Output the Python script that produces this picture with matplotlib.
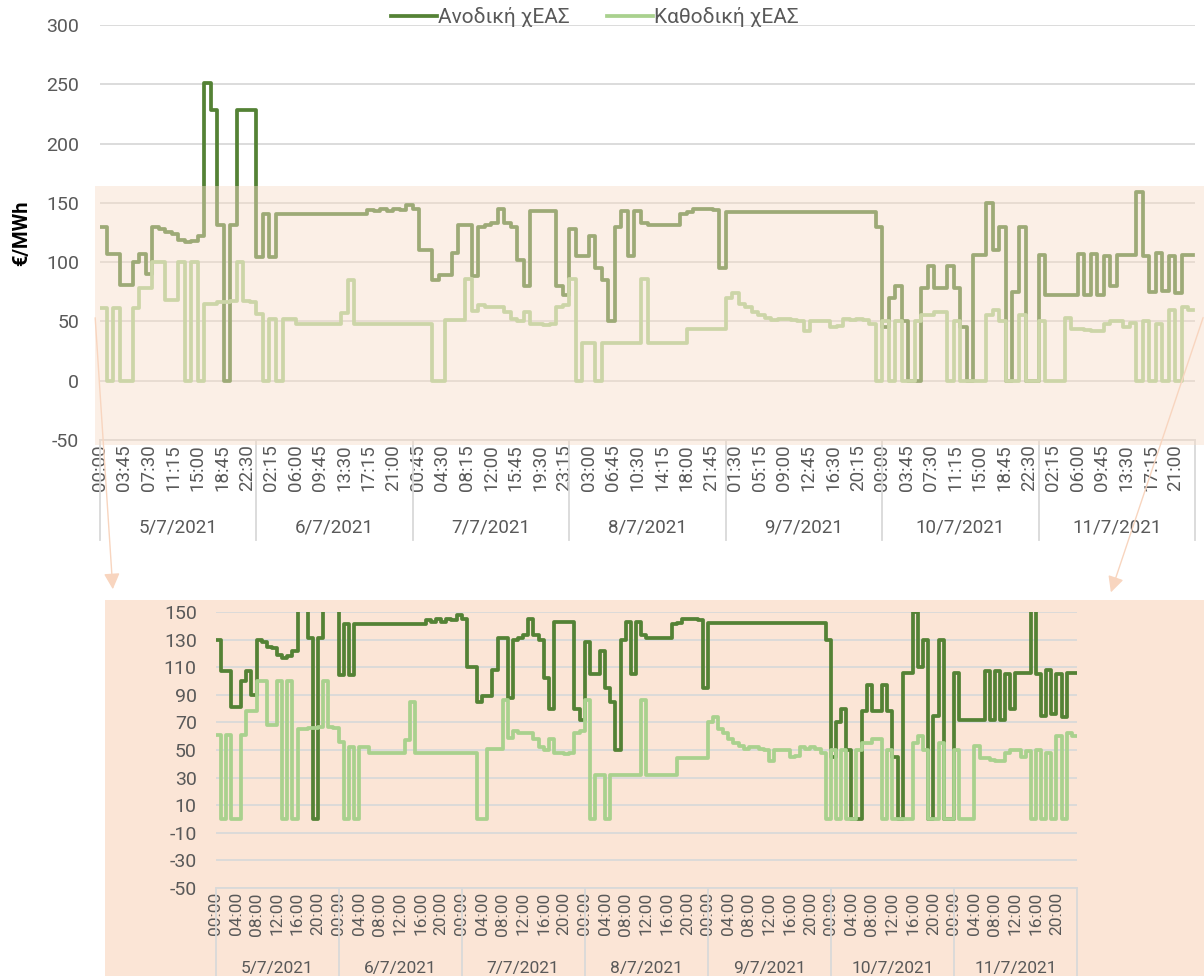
import numpy as np
import matplotlib.pyplot as plt
from matplotlib.lines import Line2D
from matplotlib.patches import Rectangle, FancyArrowPatch

plt.rcParams['font.family'] = ['Roboto', 'DejaVu Sans']
plt.rcParams['axes.unicode_minus'] = False

# hourly values (€/MWh), one list per day
dates = ['5/7/2021', '6/7/2021', '7/7/2021', '8/7/2021', '9/7/2021', '10/7/2021', '11/7/2021']

up_05 = [130, 107, 107, 81, 81, 100, 107, 90, 130, 128, 125, 124, 119, 117, 118, 122, 251, 228, 131, 0, 131, 228, 228, 228]
up_06 = [104, 141, 104, 141, 141, 141, 141, 141, 141, 141, 141, 141, 141, 141, 141, 141, 141, 144, 143, 145, 143, 145, 144, 148]
up_07 = [145, 110, 110, 85, 89, 89, 108, 131, 131, 88, 130, 131, 133, 145, 133, 130, 102, 80, 143, 143, 143, 143, 80, 72]
up_08 = [128, 105, 105, 122, 95, 85, 50, 130, 143, 105, 143, 133, 131, 131, 131, 131, 131, 141, 142, 145, 145, 145, 144, 95]
up_09 = [142, 142, 142, 142, 142, 142, 142, 142, 142, 142, 142, 142, 142, 142, 142, 142, 142, 142, 142, 142, 142, 142, 142, 130]
up_10 = [45, 70, 80, 50, 0, 0, 78, 97, 78, 78, 97, 78, 45, 0, 106, 106, 150, 110, 130, 0, 75, 130, 0, 0]
up_11 = [106, 72, 72, 72, 72, 72, 107, 72, 107, 72, 105, 80, 106, 106, 106, 159, 105, 75, 108, 76, 105, 74, 106, 106]

dn_05 = [61, 0, 61, 0, 0, 61, 78, 78, 100, 100, 68, 68, 100, 0, 100, 0, 65, 65, 66, 66, 67, 100, 67, 66]
dn_06 = [56, 0, 52, 0, 52, 52, 48, 48, 48, 48, 48, 48, 48, 57, 85, 48, 48, 48, 48, 48, 48, 48, 48, 48]
dn_07 = [48, 48, 48, 0, 0, 51, 51, 51, 86, 59, 64, 62, 62, 62, 58, 52, 50, 58, 48, 48, 47, 48, 62, 64]
dn_08 = [86, 0, 32, 32, 0, 32, 32, 32, 32, 32, 32, 86, 32, 32, 32, 32, 32, 32, 44, 44, 44, 44, 44, 44]
dn_09 = [70, 74, 65, 62, 58, 55, 53, 51, 52, 52, 51, 50, 42, 50, 50, 50, 45, 46, 52, 51, 52, 51, 48, 0]
dn_10 = [50, 0, 50, 0, 0, 50, 55, 55, 58, 58, 0, 50, 0, 0, 0, 0, 55, 60, 50, 0, 0, 55, 0, 0]
dn_11 = [50, 0, 0, 0, 53, 44, 44, 43, 42, 42, 48, 50, 50, 45, 49, 0, 50, 0, 48, 0, 60, 0, 62, 60]

up = np.array(up_05 + up_06 + up_07 + up_08 + up_09 + up_10 + up_11)
dn = np.array(dn_05 + dn_06 + dn_07 + dn_08 + dn_09 + dn_10 + dn_11)

DARK = '#548235'
LIGHT = '#a9d18e'
GRID = '#d9d9d9'
TXT = '#595959'
PEACH = '#fbe5d6'
LW = 2.7

W, H = 1204, 976
N = 672  # 15-min slots in 7 days
x = np.append(np.arange(len(up)) * 4, N - 1)


def box(l, t, r, b):
    return [l / W, 1 - b / H, (r - l) / W, (b - t) / H]


def slot_label(s):
    m = (s % 96) * 15
    return f'{m // 60:02d}:{m % 60:02d}'


def draw(ax, ylim, yticks, step, yfs, xfs, ypad, sep, date_y):
    ax.set_facecolor('none')
    ax.plot(x, np.append(up, up[-1]), drawstyle='steps-post', color=DARK, lw=LW, zorder=3)
    ax.plot(x, np.append(dn, dn[-1]), drawstyle='steps-post', color=LIGHT, lw=LW, zorder=4)
    ax.set_xlim(0, N)
    ax.set_ylim(*ylim)
    ax.set_yticks(yticks)
    ax.grid(axis='y', color=GRID, lw=1.3)
    ax.set_axisbelow(True)
    for s in ['top', 'right', 'left']:
        ax.spines[s].set_visible(False)
    ax.spines['bottom'].set_color(GRID)
    ax.spines['bottom'].set_linewidth(1.3)
    ticks = np.arange(0, N, step)
    ax.set_xticks(ticks)
    ax.set_xticklabels([slot_label(t) for t in ticks], rotation=90)
    ax.tick_params(axis='x', length=0, pad=3, labelsize=xfs, labelcolor=TXT)
    ax.tick_params(axis='y', length=0, pad=ypad, labelsize=yfs, labelcolor=TXT)
    tr = ax.get_xaxis_transform()
    for d in range(len(dates) + 1):
        ax.plot([d * 96, d * 96], [0, sep], transform=tr, color=GRID, lw=1.3, clip_on=False)
    for d, lab in enumerate(dates):
        ax.text(d * 96 + 48, date_y, lab, transform=tr, ha='center', va='center',
                fontsize=xfs, color=TXT)


fig = plt.figure(figsize=(W / 100, H / 100), dpi=100)

# bottom panel background
fig.add_artist(Rectangle((105 / W, 0), (W - 105) / W, (H - 600) / H, transform=fig.transFigure,
                         facecolor=PEACH, edgecolor='none', zorder=-1))

ax1 = fig.add_axes(box(100, 25, 1195, 440))
draw(ax1, (-50, 300), np.arange(-50, 301, 50), 15, 14, 13.5, 15, -100 / 415, -87 / 415)

ax2 = fig.add_axes(box(215.5, 612, 1077, 888))
draw(ax2, (-50, 150), np.arange(-50, 151, 20), 16, 14, 12.5, 13.5, -88 / 276, -80 / 276)

# highlighted band on the top chart
fig.add_artist(Rectangle((95 / W, 1 - 445 / H), (W - 95) / W, (445 - 186) / H, transform=fig.transFigure,
                         facecolor='#f8dcc8', edgecolor='none', alpha=0.45, zorder=5))

for a, b in [((95, 315), (113, 592)), ((1204, 315), (1110, 595))]:
    fig.add_artist(FancyArrowPatch((a[0] / W, 1 - a[1] / H), (b[0] / W, 1 - b[1] / H),
                                   transform=fig.transFigure, arrowstyle='-|>', mutation_scale=24,
                                   color='#f8d5bf', lw=1, zorder=6))

fig.text(22 / W, 1 - 233 / H, '€/MWh', rotation=90, fontsize=14.5, fontweight='bold',
         ha='center', va='center')

handles = [Line2D([], [], color=DARK, lw=LW), Line2D([], [], color=LIGHT, lw=LW)]
fig.legend(handles, ['Ανοδική χΕΑΣ', 'Καθοδική χΕΑΣ'], loc='center', bbox_to_anchor=(595 / W, 1 - 17 / H),
           ncol=2, frameon=False, fontsize=15, handlelength=2.2, handletextpad=0.05,
           columnspacing=1.8, labelcolor=TXT)

fig.savefig('out.png', dpi=100)
